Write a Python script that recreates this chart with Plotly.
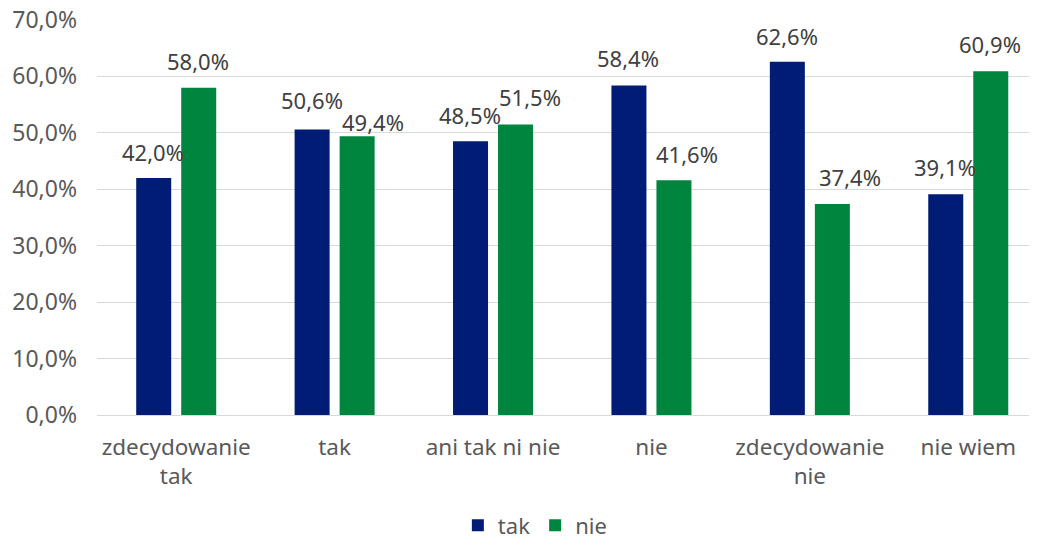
import plotly.graph_objects as go

categories = ["zdecydowanie<br>tak", "tak", "ani tak ni nie", "nie", "zdecydowanie<br>nie", "nie wiem"]
tak_values = [42.0, 50.6, 48.5, 58.4, 62.6, 39.1]
nie_values = [58.0, 49.4, 51.5, 41.6, 37.4, 60.9]
y_ticks = [0, 10, 20, 30, 40, 50, 60, 70]
y_tick_labels = ["0,0%", "10,0%", "20,0%", "30,0%", "40,0%", "50,0%", "60,0%", "70,0%"]

# label nudges (pixels) as placed in the reference
tak_dx = [-0.5, -0.5, -1, -0.5, 0, -1]
tak_dy = [25, 28, 25, 26, 25, 26]
nie_dx = [-0.5, 15.5, 14.5, 13.5, 17.5, -1]
nie_dy = [26, 13, 26, 25, 25.5, 26]

BLUE = "#001C74"
GREEN = "#00853F"
FONT = "Noto Sans"
W = 0.221
OFF_T = -0.2525
OFF_N = 0.0316

def fmt(v):
    return f"{v:.1f}".replace(".", ",") + "%"

fig = go.Figure()
fig.add_trace(go.Bar(name="tak", x=categories, y=tak_values, marker_color=BLUE,
                     width=W, offset=OFF_T, marker_line_width=0))
fig.add_trace(go.Bar(name="nie", x=categories, y=nie_values, marker_color=GREEN,
                     width=W, offset=OFF_N, marker_line_width=0))

def add_labels(values, off, dxs, dys):
    for i, (v, dx, dy) in enumerate(zip(values, dxs, dys)):
        fig.add_annotation(x=i + off + W / 2, y=v, text=fmt(v), showarrow=False,
                           yanchor="middle", xanchor="center",
                           xshift=dx, yshift=dy + 1,
                           font=dict(family=FONT, size=22, color="#404040"))

add_labels(tak_values, OFF_T, tak_dx, tak_dy)
add_labels(nie_values, OFF_N, nie_dx, nie_dy)

fig.update_layout(
    width=1029, height=528,
    margin=dict(l=89, r=0, t=12, b=121, autoexpand=False),
    paper_bgcolor="white", plot_bgcolor="white",
    barmode="overlay",
    font=dict(family=FONT, size=22, color="#595959"),
    showlegend=True,
    legend=dict(orientation="h", xref="container", yref="container",
                x=0.512, y=0.02, xanchor="center", yanchor="middle",
                font=dict(family=FONT, size=22, color="#595959"),
                itemwidth=30, traceorder="normal"),
    xaxis=dict(type="category", range=[-0.5, 5.434], showgrid=False,
               showline=True, linecolor="#d9d9d9", linewidth=1, automargin=False,
               ticks="", ticklabelstandoff=12,
               tickfont=dict(family=FONT, size=22.5, color="#595959")),
    yaxis=dict(range=[0, 70], tickvals=y_ticks, ticktext=y_tick_labels,
               showgrid=True, gridcolor="#d9d9d9", gridwidth=1, automargin=False,
               zeroline=False, showline=False, ticks="", ticklabelstandoff=19,
               ticklabeloverflow="allow",
               tickfont=dict(family=FONT, size=23, color="#595959")),
)

fig.write_html("out.html")
